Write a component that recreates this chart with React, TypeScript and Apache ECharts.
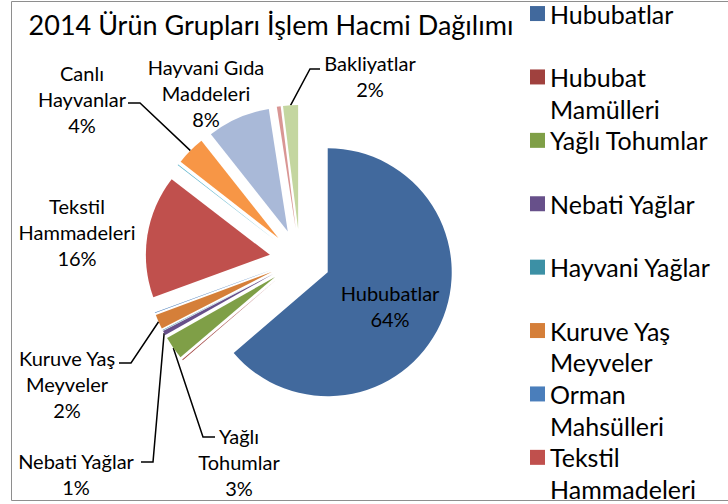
import React, { useEffect, useRef } from 'react';
import * as echarts from 'echarts';

// ---- data ----
const categories = [
  'Hububatlar',
  'Hububat Mamülleri',
  'Yağlı Tohumlar',
  'Nebati Yağlar',
  'Hayvani Yağlar',
  'Kuruve Yaş Meyveler',
  'Orman Mahsülleri',
  'Tekstil Hammadeleri',
  'Diğer Ürünler',
  'Canlı Hayvanlar',
  'Hayvani Gıda Maddeleri',
  'Diğer Gruplar',
  'Bakliyatlar',
];
const shares = [63.7, 0.1, 3.0, 0.6, 0.05, 1.9, 0.1, 16.0, 0.1, 3.8, 8.2, 0.5, 1.95];
const sliceLabels = [
  'Hububatlar', '', 'Yağlı\nTohumlar', 'Nebati Yağlar', '', 'Kuruve Yaş\nMeyveler', '',
  'Tekstil\nHammadeleri', '', 'Canlı\nHayvanlar', 'Hayvani Gıda\nMaddeleri', '', 'Bakliyatlar',
];
const legendItems = categories.slice(0, 8);
const legendLabels = [
  'Hububatlar', 'Hububat\nMamülleri', 'Yağlı Tohumlar', 'Nebati Yağlar', 'Hayvani Yağlar',
  'Kuruve Yaş\nMeyveler', 'Orman\nMahsülleri', 'Tekstil\nHammadeleri',
];
const titleText = '2014 Ürün Grupları İşlem Hacmi Dağılımı';

// ---- styles / layout ----
const colors = ['#41699D', '#A0413E', '#7F9F47', '#67508A', '#3C90A5', '#D57F39', '#4A7EBB', '#C0504D', '#4BACC6', '#F79646', '#A9B9D8', '#D99694', '#C4D6A0'];
const FONT = 'Lato, "Noto Sans", sans-serif';
const CX = 300;
const CY = 259.5;
const RADIUS = 124;
const OFFSET = 30.5;
const LEGEND_LH = 31.7;
const NBSP = '\u00a0';
// label anchor (centre) and optional leader line elbow/end
const labelPlacement: Record<number, { x: number; y: number; line?: [number, number][] }> = {
  0: { x: 390, y: 306 },
  2: { x: 239, y: 462, line: [[203, 437], [215, 437]] },
  3: { x: 76, y: 474, line: [[153, 462], [141, 462]] },
  5: { x: 67, y: 384, line: [[131, 363], [119, 363]] },
  7: { x: 77, y: 232 },
  9: { x: 82, y: 99, line: [[140, 103], [128, 103]] },
  10: { x: 206, y: 93 },
  12: { x: 370, y: 76, line: [[310, 69], [320, 69]] },
};

export default function App() {
  const ref = useRef<HTMLDivElement>(null);
  useEffect(() => {
    document.body.style.margin = '0';
    if (!ref.current) return;
    const chart = echarts.init(ref.current, undefined, { renderer: 'svg' });
    const total = shares.reduce((a, b) => a + b, 0);
    const midAngles: number[] = [];
    let acc = 0;
    shares.forEach((v) => {
      midAngles.push(((acc + v / 2) / total) * 360);
      acc += v;
    });
    const pieData = categories.map((name, i) => ({
      name,
      value: shares[i],
      selected: true,
      itemStyle: { color: colors[i] },
    }));
    const labelData = categories.map((name, i) => ({
      name,
      value: shares[i],
      itemStyle: { color: 'rgba(0,0,0,0)' },
      label: { show: !!sliceLabels[i] },
      labelLine: { show: !!(labelPlacement[i] && labelPlacement[i].line) },
    }));
    const pieCommon = {
      type: 'pie',
      center: [CX, CY],
      radius: RADIUS,
      startAngle: 90,
      clockwise: true,
      emphasis: { disabled: true },
    };
    chart.setOption({
      animation: false,
      backgroundColor: '#fff',
      title: {
        text: titleText,
        left: 271,
        top: 11,
        padding: 0,
        textAlign: 'center',
        textVerticalAlign: 'top',
        textStyle: { fontFamily: FONT, fontSize: 27, fontWeight: 'normal', color: '#000' },
      },
      legend: {
        orient: 'vertical',
        left: 530,
        top: -34,
        height: 1200,
        padding: 0,
        itemWidth: 15,
        itemHeight: 15,
        itemGap: -LEGEND_LH,
        icon: 'rect',
        selectedMode: false,
        data: legendItems,
        formatter: (name: string) => {
          const t = legendLabels[legendItems.indexOf(name)];
          // the icon sits on the first line of the name, as in the reference
          return NBSP + '\n' + (t.includes('\n') ? t : t + '\n' + NBSP);
        },
        textStyle: {
          fontFamily: FONT,
          fontSize: 25,
          lineHeight: LEGEND_LH,
          color: '#000',
        },
      },
      graphic: [
        {
          type: 'rect',
          shape: { x: 11.5, y: 1.5, width: 760, height: 499 },
          style: { fill: 'none', stroke: '#8E8E8E', lineWidth: 1 },
          silent: true,
        },
      ],
      series: [
        {
          ...pieCommon,
          name: 'slices',
          selectedMode: 'multiple',
          selectedOffset: OFFSET,
          select: { itemStyle: { borderWidth: 0 } },
          label: { show: false },
          labelLine: { show: false },
          data: pieData,
        },
        {
          ...pieCommon,
          name: 'labels',
          silent: true,
          selectedMode: false,
          avoidLabelOverlap: false,
          data: labelData,
          label: {
            fontFamily: FONT,
            fontSize: 20,
            lineHeight: 26,
            color: '#000',
            formatter: (p: any) => `${sliceLabels[p.dataIndex]}\n${Math.round(p.percent)}%`,
          },
          labelLine: { show: true, lineStyle: { color: '#000', width: 1.5 } },
          labelLayout: (p: any) => {
            const pos = labelPlacement[p.dataIndex];
            if (!pos) return {};
            const res: any = { x: pos.x, y: pos.y, align: 'center', verticalAlign: 'middle' };
            if (pos.line) {
              const rad = (midAngles[p.dataIndex] * Math.PI) / 180;
              const R = RADIUS + OFFSET;
              const sx = CX + R * Math.sin(rad);
              const sy = CY - R * Math.cos(rad);
              res.labelLinePoints = [[sx, sy], pos.line[0], pos.line[1]];
            }
            return res;
          },
        },
      ],
    });
    return () => chart.dispose();
  }, []);
  return <div ref={ref} style={{ width: 728, height: 504 }} />;
}
